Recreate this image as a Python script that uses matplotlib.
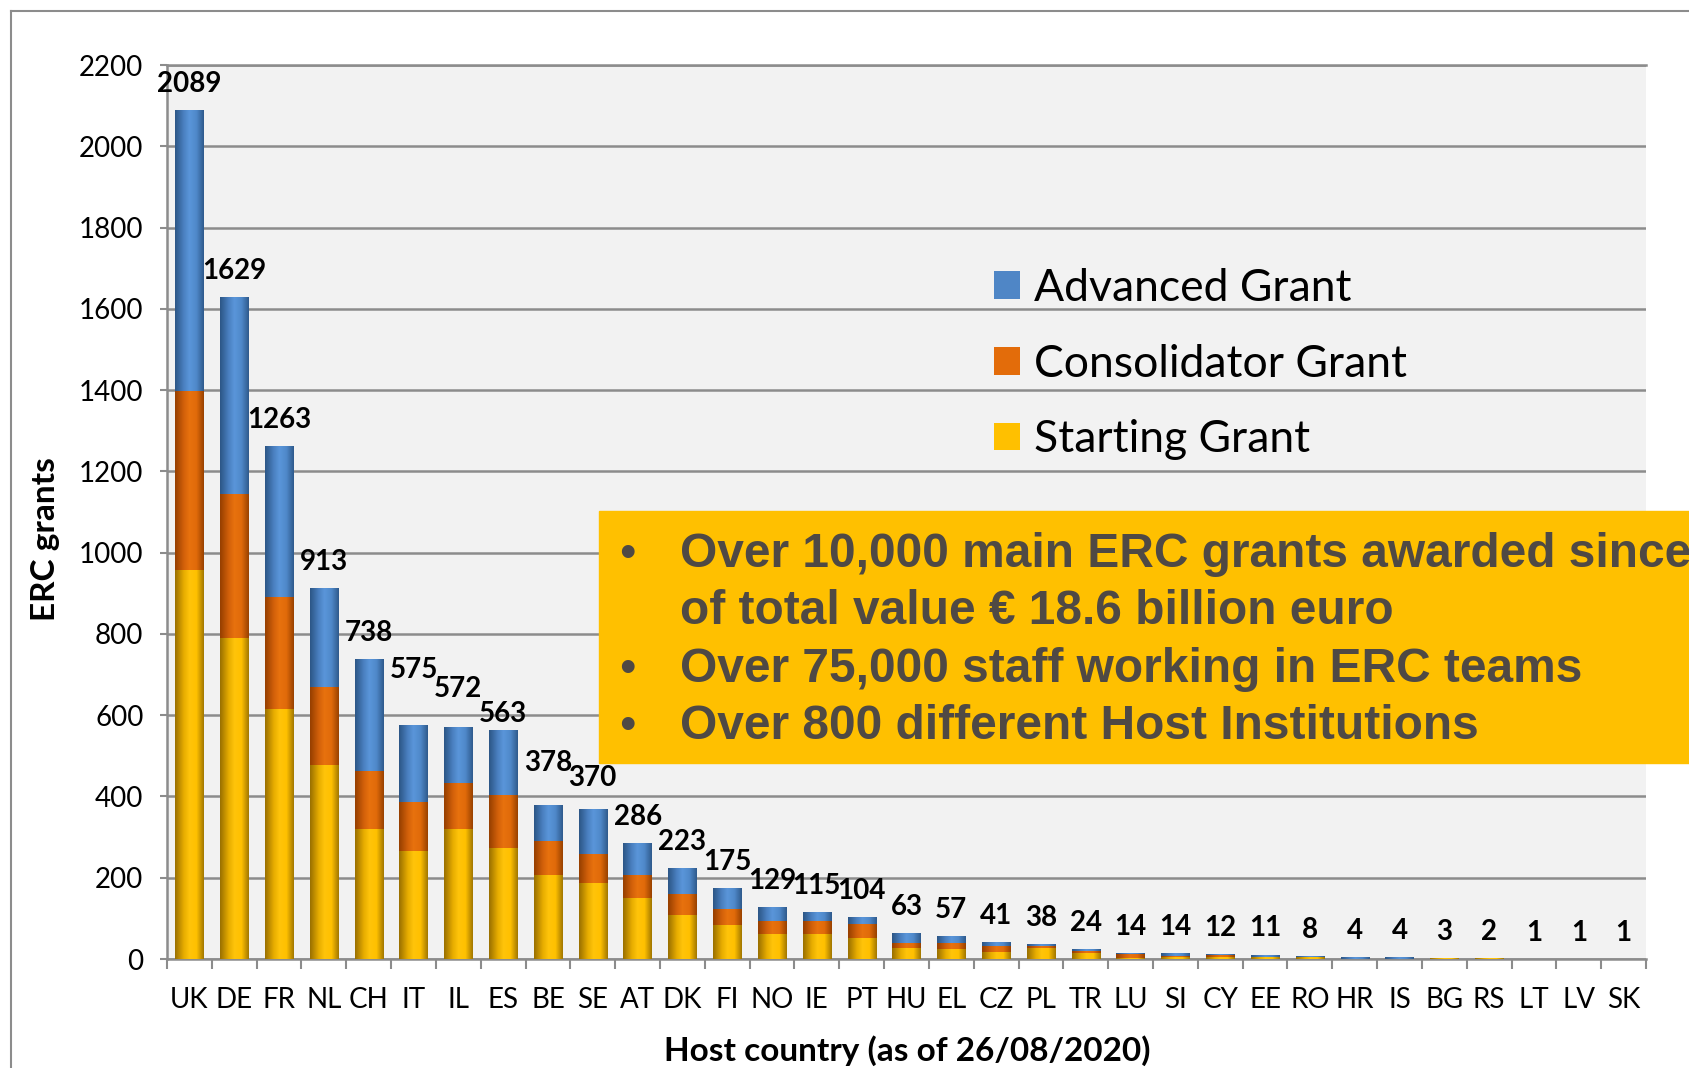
import matplotlib.pyplot as plt
import numpy as np
from matplotlib.colors import LinearSegmentedColormap
from matplotlib.lines import Line2D
from matplotlib.patches import Rectangle

plt.rcParams["font.family"] = ["Lato", "DejaVu Sans"]

countries = ["UK", "DE", "FR", "NL", "CH", "IT", "IL", "ES", "BE", "SE", "AT",
             "DK", "FI", "NO", "IE", "PT", "HU", "EL", "CZ", "PL", "TR", "LU",
             "SI", "CY", "EE", "RO", "HR", "IS", "BG", "RS", "LT", "LV", "SK"]
starting = [957, 789, 616, 477, 320, 266, 320, 272, 206, 187, 150,
            108, 83, 61, 61, 51, 27, 25, 18, 28, 15, 2,
            5, 5, 4, 4, 0, 0, 3, 2, 1, 1, 1]
consolidator = [440, 356, 276, 192, 142, 120, 113, 132, 85, 72, 56,
                51, 41, 32, 32, 36, 12, 15, 15, 5, 5, 10,
                3, 4, 2, 2, 1, 1, 0, 0, 0, 0, 0]
advanced = [692, 484, 371, 244, 276, 189, 139, 159, 87, 111, 80,
            64, 51, 36, 22, 17, 24, 17, 8, 5, 4, 2,
            6, 3, 5, 2, 3, 3, 0, 0, 0, 0, 0]
series_names = ["Starting Grant", "Consolidator Grant", "Advanced Grant"]

# extra lift (points) of some value labels, as placed in the original
label_lift = {"IT": 21, "IL": 8, "ES": -7, "BE": 12, "SE": 3}

bullets = [
    "Over 10,000 main ERC grants awarded since",
    "of total value \u20ac 18.6 billion euro",
    "Over 75,000 staff working in ERC teams",
    "Over 800 different Host Institutions",
]

# cylinder-like shading for each series: dark edge -> base -> highlight -> dark edge
shades = [
    ["#9a7000", "#e6ac00", "#ffc40a", "#ffc000", "#a37800"],
    ["#963f00", "#d2600a", "#e8720e", "#e06a0a", "#9a4200"],
    ["#2c5686", "#4a80c0", "#5a96da", "#4f88c9", "#2f5b8d"],
]
base_colors = ["#FFC000", "#E36C0A", "#4F86C6"]
grad = np.linspace(0, 1, 64).reshape(1, -1)

fig = plt.figure(figsize=(16.9, 10.68), dpi=100)
ax = fig.add_axes([167 / 1690, 1 - 959 / 1068, (1646 - 167) / 1690, (959 - 65) / 1068])
ax.set_facecolor("#F2F2F2")

x = np.arange(len(countries))
bottom = np.zeros(len(countries))
handles = []
for vals, name, sh, col in zip([starting, consolidator, advanced], series_names, shades, base_colors):
    cm = LinearSegmentedColormap.from_list(name, list(zip([0, 0.3, 0.5, 0.75, 1], sh)))
    bars = ax.bar(x, vals, 0.63, bottom=bottom, color=col, label=name, zorder=2)
    handles.append(bars)
    for p in bars:
        if p.get_height() <= 0:
            continue
        x0, y0 = p.get_x(), p.get_y()
        im = ax.imshow(grad, cmap=cm, aspect="auto", zorder=3,
                       extent=[x0, x0 + p.get_width(), y0, y0 + p.get_height()])
        im.set_clip_path(p)
    bottom += np.array(vals)

totals = bottom.astype(int)
for xi, c, t in zip(x, countries, totals):
    ax.annotate(str(t), (xi, t), xytext=(0, 13 + label_lift.get(c, 0)),
                textcoords="offset points", ha="center", va="baseline",
                fontsize=20, fontweight="bold", zorder=5)

ax.set_xlim(-0.5, len(countries) - 0.5)
ax.set_ylim(0, 2200)
ax.set_yticks(np.arange(0, 2201, 200))
ax.yaxis.grid(True, color="#8C8C8C", lw=1.8)
ax.set_axisbelow(True)

ax.set_xticks(x)
ax.set_xticklabels(countries)
ax.set_xticks(np.arange(-0.5, len(countries)), minor=True)
ax.tick_params(axis="x", which="major", length=0, pad=20, labelsize=20)
ax.tick_params(axis="x", which="minor", length=7, width=1.5, color="#8C8C8C")
ax.tick_params(axis="y", length=5, width=1.5, color="#8C8C8C", pad=12, labelsize=20)

for s in ["left", "bottom", "top"]:
    ax.spines[s].set_color("#8C8C8C")
    ax.spines[s].set_linewidth(1.8)
ax.spines["right"].set_visible(False)

leg = ax.legend(handles[::-1], series_names[::-1], loc="upper left",
                bbox_to_anchor=(994 / 1690, 1 - 268 / 1068), bbox_transform=fig.transFigure,
                frameon=False, fontsize=32, handlelength=0.58, handleheight=0.58,
                handletextpad=0.33, labelspacing=0.78, borderpad=0, borderaxespad=0)

fig.text(46 / 1690, 1 - 539 / 1068, "ERC grants", rotation=90, ha="center", va="center",
         fontsize=24, fontweight="bold")
fig.text(907 / 1690, 1 - 1051 / 1068, "Host country (as of 26/08/2020)", ha="center",
         va="center", fontsize=24, fontweight="bold")

# highlight box
fig.add_artist(Rectangle((599 / 1690, 1 - 763 / 1068), 1, (763 - 511) / 1068,
                         transform=fig.transFigure, color="#FFC000", zorder=10))
baselines = [567, 624, 682, 739]
for i, (txt, yb) in enumerate(zip(bullets, baselines)):
    if i != 1:
        fig.text(627 / 1690, 1 - yb / 1068, "\u2022", ha="center", va="baseline",
                 fontsize=34, color="#4F4944", family=["Liberation Sans", "DejaVu Sans"],
                 zorder=11)
    fig.text(680 / 1690, 1 - yb / 1068, txt, ha="left", va="baseline", fontsize=34.5,
             fontweight="bold", color="#4F4944", family=["Liberation Sans", "DejaVu Sans"],
             zorder=11)

# outer frame
fig.add_artist(Line2D([11 / 1690, 1], [1 - 11 / 1068] * 2, transform=fig.transFigure,
                      color="#8C8C8C", lw=1.5))
fig.add_artist(Line2D([11 / 1690] * 2, [0, 1 - 11 / 1068], transform=fig.transFigure,
                      color="#8C8C8C", lw=1.5))

fig.savefig("out.png", dpi=100)
